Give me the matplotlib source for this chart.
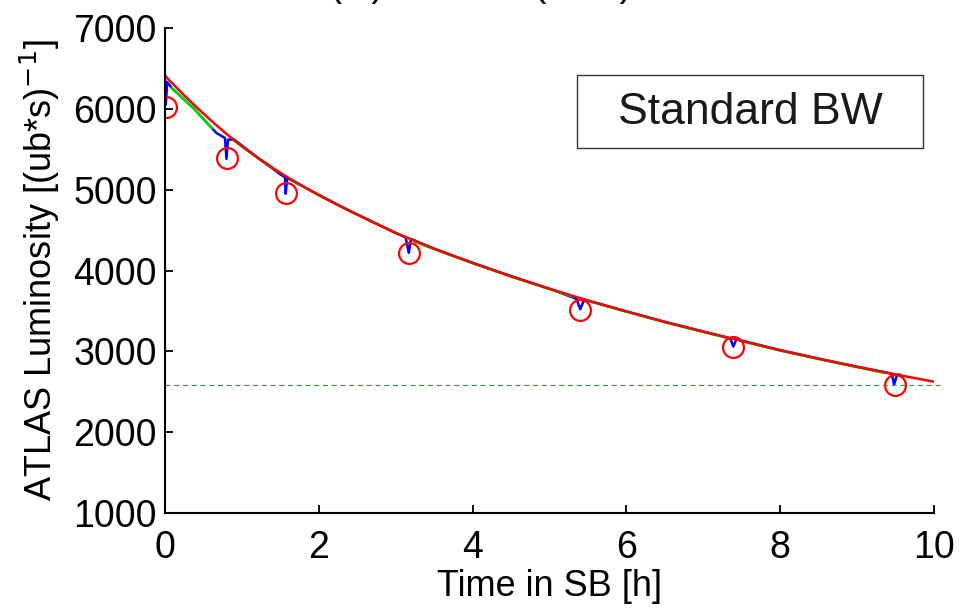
import numpy as np
from matplotlib import pyplot as plt
from matplotlib.patches import Rectangle

# fitted luminosity (red)
t_fit = [0, 0.2, 0.4, 0.6, 0.8, 1.0, 1.2, 1.4, 1.6, 1.8, 2.0, 2.2, 2.4, 2.7, 3.0, 3.5, 4.0, 4.5,
         5.0, 5.5, 6.0, 6.5, 7.0, 7.5, 8.0, 8.5, 9.0, 9.5, 10.0]
l_fit = [6410, 6215, 6030, 5855, 5690, 5540, 5400, 5270, 5150, 5040, 4935, 4835, 4740, 4600, 4465, 4270, 4095, 3930,
         3775, 3630, 3495, 3365, 3245, 3130, 3015, 2910, 2810, 2715, 2625]

# measured luminosity (blue)
t_meas = [0.0, 0.01, 0.03, 0.09, 0.37, 0.61, 0.67, 0.78, 0.80, 0.82, 0.9, 1.2, 1.5, 1.56, 1.57, 1.59,
          2.0, 2.4, 3.0, 3.13, 3.17, 3.2, 3.5, 4.0, 4.5, 5.0, 5.35, 5.40, 5.45, 6.0, 6.5, 7.0, 7.35, 7.39, 7.43,
          8.0, 8.5, 9.0, 9.45, 9.48, 9.52, 9.56]
l_meas = [6420, 6050, 6330, 6256, 6009, 5762, 5700, 5640, 5380, 5620, 5620, 5400, 5190, 5155, 4950, 5145,
          4935, 4740, 4465, 4410, 4220, 4390, 4270, 4095, 3930, 3775, 3650, 3520, 3640, 3495, 3365, 3245, 3160, 3060, 3150,
          3015, 2910, 2810, 2725, 2590, 2715, 2710]

# second model (green), gaps where the measured data shows through
t_mod = [0.09, 0.37, 0.61, np.nan, 0.9, 1.2, 1.45, np.nan, 1.65, 2.0, 2.4, 3.05, np.nan, 3.25, 3.5, 4.0, 4.5,
         5.0, 5.3, np.nan, 5.5, 6.0, 6.5, 7.0, 7.3, np.nan, 7.5, 8.0, 8.5, 9.0, 9.35]
l_mod = [6256, 6009, 5762, np.nan, 5605, 5395, 5235, np.nan, 5120, 4930, 4735, 4445, np.nan, 4355, 4265, 4090, 3925,
         3770, 3680, np.nan, 3625, 3490, 3360, 3240, 3170, np.nan, 3125, 3010, 2905, 2805, 2735]

# refill points (red circles)
t_pts = [0.02, 0.81, 1.57, 3.17, 5.40, 7.39, 9.49]
l_pts = [6020, 5390, 4955, 4215, 3510, 3058, 2584]

l_level = 2584

plt.rcParams['font.family'] = ['Liberation Sans', 'DejaVu Sans']
fig = plt.figure(figsize=(9.59, 6.08), dpi=100)
ax = fig.add_axes([0.172, 0.156, 0.802, 0.798])

ax.plot(t_meas, l_meas, '-', color='#0000ff', lw=1.8)
ax.plot(t_mod, l_mod, '-', color='#00dd00', lw=1.8)
ax.plot(t_fit, l_fit, '-', color='#ff0000', lw=1.8)
ax.plot(t_pts, l_pts, 'o', mfc='none', mec='#ff0000', mew=1.6, ms=15)
ax.plot([0, 10.12], [l_level, l_level], '--', color='#3f993f', lw=0.9, dashes=(4, 3), clip_on=False)

ax.set_xlim(0, 10)
ax.set_ylim(1000, 7000)
ax.set_xticks(np.arange(0, 11, 2))
ax.set_yticks(np.arange(1000, 7001, 1000))
for s in ['top', 'right']:
    ax.spines[s].set_visible(False)
for s in ['left', 'bottom']:
    ax.spines[s].set_linewidth(1.5)
ax.tick_params(direction='in', length=6, width=1.3, labelsize=27)
ax.tick_params(axis='x', pad=12)
ax.tick_params(axis='y', pad=6)

ax.set_xlabel('Time in SB [h]', fontsize=26, labelpad=2)
ax.set_ylabel(r'ATLAS Luminosity [(ub*s)$^{-1}$]', fontsize=26, labelpad=8)

# label box
ax.add_patch(Rectangle((577 / 959, 1 - 148 / 608), 346 / 959, 73 / 608, transform=fig.transFigure,
                       fill=False, ec='#333333', lw=1.0, clip_on=False))
fig.text(750 / 959, 1 - 112 / 608, 'Standard BW', fontsize=32, ha='center', va='center', color='#1a1a1a')

# title cut at the top edge of the image
fig.text(238 / 959, 1 + 4 / 608, 'Lumi (fit) vs Lumi (data)', fontsize=27, ha='left', va='baseline')

fig.savefig('out.png', dpi=100)
